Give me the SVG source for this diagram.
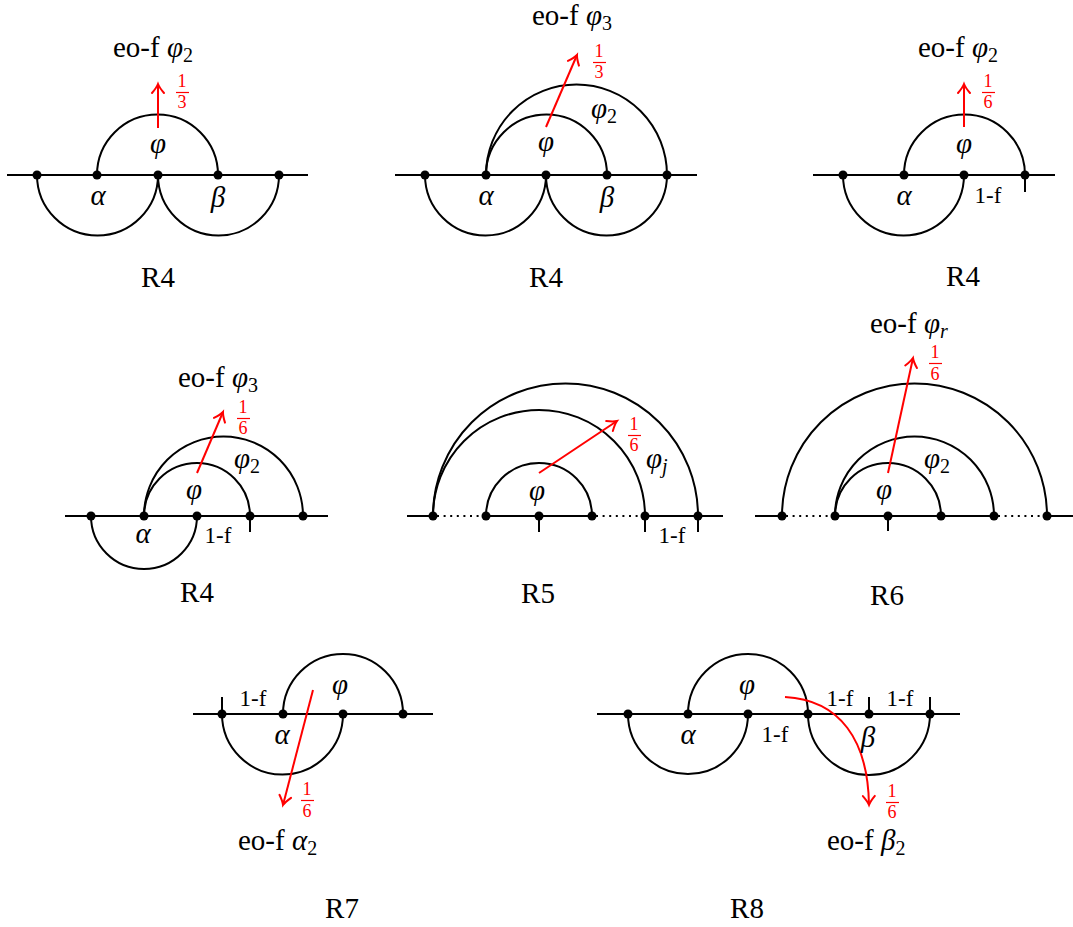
<svg xmlns="http://www.w3.org/2000/svg" width="1073" height="927" viewBox="0 0 1073 927">
<style>
.ln{stroke:#000;stroke-width:2;fill:none}
.dt{stroke:#000;stroke-width:2;fill:none;stroke-dasharray:2 4.6}
.rd{stroke:#f00;stroke-width:2;fill:none}
.bar{stroke:#f00;stroke-width:1.2}
.dot{fill:#000}
text{font-family:"Liberation Serif","Times New Roman",serif;fill:#000}
.t{font-size:29px}
.g{font-size:29px;font-style:italic;text-anchor:middle}
.s{font-size:20px;font-style:normal}
.si{font-size:20px;font-style:italic}
.fr{font-size:18px;fill:#f00;text-anchor:middle}
.lf{font-size:23px;text-anchor:middle}
.c{text-anchor:middle}
</style>
<defs>
<marker id="ah" markerUnits="userSpaceOnUse" markerWidth="20" markerHeight="20" refX="0" refY="0" orient="auto" overflow="visible">
<path d="M-9,-6 Q-3.5,-1.3 0,0 Q-3.5,1.3 -9,6" stroke="#f00" stroke-width="2" fill="none" stroke-linecap="round"/>
</marker>
</defs>

<!-- Panel 1 -->
<g id="panel1">
<g id="p1-edges">
<line class="ln" x1="7" y1="175" x2="308" y2="175"/>
<path class="ln" d="M97,175 A60.5,60.5 0 0 1 218,175"/>
<path class="ln" d="M37,175 A60.5,60.5 0 0 0 158,175"/>
<path class="ln" d="M158,175 A60.5,60.5 0 0 0 279,175"/>
<line class="rd" x1="158" y1="128" x2="158" y2="84" marker-end="url(#ah)"/>
</g>
<g id="p1-nodes">
<circle class="dot" cx="37" cy="175" r="4.5"/><circle class="dot" cx="97" cy="175" r="4.5"/><circle class="dot" cx="158" cy="175" r="4.5"/><circle class="dot" cx="218" cy="175" r="4.5"/><circle class="dot" cx="279" cy="175" r="4.5"/>
</g>
<g id="p1-labels">
<text class="t" x="113" y="57">eo-f <tspan font-style="italic">φ</tspan><tspan class="s" dy="5">2</tspan></text>
<text class="fr" x="182" y="87">1</text><line class="bar" x1="176" y1="92.5" x2="189" y2="92.5"/><text class="fr" x="182" y="108">3</text>
<text class="g" x="158" y="153">φ</text>
<text class="g" x="98" y="205">α</text>
<text class="g" x="218" y="207">β</text>
<text class="t c" x="158" y="287">R4</text>
</g>
</g>

<!-- Panel 2 -->
<g id="panel2">
<g id="p2-edges">
<line class="ln" x1="395" y1="175" x2="697" y2="175"/>
<path class="ln" d="M486,175 A60.5,60.5 0 0 1 607,175"/>
<path class="ln" d="M486,175 A90.5,90.5 0 0 1 667,175"/>
<path class="ln" d="M425,175 A60.5,60.5 0 0 0 546,175"/>
<path class="ln" d="M546,175 A60.5,60.5 0 0 0 667,175"/>
<line class="rd" x1="546" y1="127" x2="577" y2="55" marker-end="url(#ah)"/>
</g>
<g id="p2-nodes">
<circle class="dot" cx="425" cy="175" r="4.5"/><circle class="dot" cx="486" cy="175" r="4.5"/><circle class="dot" cx="546" cy="175" r="4.5"/><circle class="dot" cx="607" cy="175" r="4.5"/><circle class="dot" cx="667" cy="175" r="4.5"/>
</g>
<g id="p2-labels">
<text class="t" x="532" y="25">eo-f <tspan font-style="italic">φ</tspan><tspan class="s" dy="5">3</tspan></text>
<text class="fr" x="599" y="57">1</text><line class="bar" x1="593" y1="62.5" x2="606" y2="62.5"/><text class="fr" x="599" y="78">3</text>
<text class="t" x="591" y="118" font-style="italic">φ<tspan class="s" dy="5">2</tspan></text>
<text class="g" x="546" y="151">φ</text>
<text class="g" x="486" y="205">α</text>
<text class="g" x="607" y="207">β</text>
<text class="t c" x="546" y="287">R4</text>
</g>
</g>

<!-- Panel 3 -->
<g id="panel3">
<g id="p3-edges">
<line class="ln" x1="813" y1="175" x2="1055" y2="175"/>
<path class="ln" d="M904,175 A60.5,60.5 0 0 1 1025,175"/>
<path class="ln" d="M843,175 A60.5,60.5 0 0 0 964,175"/>
<line class="ln" x1="1025" y1="175" x2="1025" y2="192"/>
<line class="rd" x1="964" y1="127" x2="964" y2="84" marker-end="url(#ah)"/>
</g>
<g id="p3-nodes">
<circle class="dot" cx="843" cy="175" r="4.5"/><circle class="dot" cx="904" cy="175" r="4.5"/><circle class="dot" cx="964" cy="175" r="4.5"/><circle class="dot" cx="1025" cy="175" r="4.5"/>
</g>
<g id="p3-labels">
<text class="t" x="918" y="57">eo-f <tspan font-style="italic">φ</tspan><tspan class="s" dy="5">2</tspan></text>
<text class="fr" x="988" y="87">1</text><line class="bar" x1="982" y1="92.5" x2="995" y2="92.5"/><text class="fr" x="988" y="108">6</text>
<text class="g" x="964" y="153">φ</text>
<text class="g" x="904" y="205">α</text>
<text class="lf" x="988" y="203">1-f</text>
<text class="t c" x="963" y="286">R4</text>
</g>
</g>

<!-- Panel 4 -->
<g id="panel4">
<g id="p4-edges">
<line class="ln" x1="65" y1="516" x2="328" y2="516"/>
<path class="ln" d="M144,516 A53,53 0 0 1 250,516"/>
<path class="ln" d="M144,516 A79.5,79.5 0 0 1 303,516"/>
<path class="ln" d="M91,516 A53,53 0 0 0 197,516"/>
<line class="ln" x1="250" y1="516" x2="250" y2="532"/>
<line class="rd" x1="197" y1="473" x2="223" y2="412" marker-end="url(#ah)"/>
</g>
<g id="p4-nodes">
<circle class="dot" cx="91" cy="516" r="4.5"/><circle class="dot" cx="144" cy="516" r="4.5"/><circle class="dot" cx="197" cy="516" r="4.5"/><circle class="dot" cx="250" cy="516" r="4.5"/><circle class="dot" cx="303" cy="516" r="4.5"/>
</g>
<g id="p4-labels">
<text class="t" x="178" y="387">eo-f <tspan font-style="italic">φ</tspan><tspan class="s" dy="5">3</tspan></text>
<text class="fr" x="243" y="413">1</text><line class="bar" x1="237" y1="418.5" x2="250" y2="418.5"/><text class="fr" x="243" y="434">6</text>
<text class="t" x="234" y="468" font-style="italic">φ<tspan class="s" dy="5">2</tspan></text>
<text class="g" x="194" y="499">φ</text>
<text class="g" x="143" y="543">α</text>
<text class="lf" x="218" y="543">1-f</text>
<text class="t c" x="197" y="602">R4</text>
</g>
</g>

<!-- Panel 5 -->
<g id="panel5">
<g id="p5-edges">
<line class="ln" x1="407" y1="516" x2="433" y2="516"/>
<line class="dt" x1="437" y1="516" x2="484" y2="516"/>
<line class="ln" x1="486" y1="516" x2="592" y2="516"/>
<line class="dt" x1="596" y1="516" x2="643" y2="516"/>
<line class="ln" x1="645" y1="516" x2="723" y2="516"/>
<path class="ln" d="M486,516 A53,53 0 0 1 592,516"/>
<path class="ln" d="M433,516 A106,106 0 0 1 645,516"/>
<path class="ln" d="M433,516 A132.5,132.5 0 0 1 698,516"/>
<line class="ln" x1="539" y1="516" x2="539" y2="532"/>
<line class="ln" x1="645" y1="516" x2="645" y2="532"/>
<line class="ln" x1="698" y1="516" x2="698" y2="532"/>
<line class="rd" x1="539" y1="473" x2="617" y2="421" marker-end="url(#ah)"/>
</g>
<g id="p5-nodes">
<circle class="dot" cx="433" cy="516" r="4.5"/><circle class="dot" cx="486" cy="516" r="4.5"/><circle class="dot" cx="539" cy="516" r="4.5"/><circle class="dot" cx="592" cy="516" r="4.5"/><circle class="dot" cx="645" cy="516" r="4.5"/><circle class="dot" cx="698" cy="516" r="4.5"/>
</g>
<g id="p5-labels">
<text class="fr" x="634" y="430">1</text><line class="bar" x1="628" y1="435.5" x2="641" y2="435.5"/><text class="fr" x="634" y="451">6</text>
<text class="t" x="646" y="468" font-style="italic">φ<tspan class="si" dy="5">j</tspan></text>
<text class="g" x="537" y="500">φ</text>
<text class="lf" x="672" y="543">1-f</text>
<text class="t c" x="538" y="603">R5</text>
</g>
</g>

<!-- Panel 6 -->
<g id="panel6">
<g id="p6-edges">
<line class="ln" x1="755" y1="516" x2="782" y2="516"/>
<line class="dt" x1="786" y1="516" x2="833" y2="516"/>
<line class="ln" x1="835" y1="516" x2="994" y2="516"/>
<line class="dt" x1="998" y1="516" x2="1045" y2="516"/>
<line class="ln" x1="1047" y1="516" x2="1073" y2="516"/>
<path class="ln" d="M835,516 A53,53 0 0 1 941,516"/>
<path class="ln" d="M835,516 A79.5,79.5 0 0 1 994,516"/>
<path class="ln" d="M782,516 A132.5,132.5 0 0 1 1047,516"/>
<line class="ln" x1="888" y1="516" x2="888" y2="531"/>
<line class="rd" x1="888" y1="473" x2="913" y2="358" marker-end="url(#ah)"/>
</g>
<g id="p6-nodes">
<circle class="dot" cx="782" cy="516" r="4.5"/><circle class="dot" cx="835" cy="516" r="4.5"/><circle class="dot" cx="888" cy="516" r="4.5"/><circle class="dot" cx="941" cy="516" r="4.5"/><circle class="dot" cx="994" cy="516" r="4.5"/><circle class="dot" cx="1047" cy="516" r="4.5"/>
</g>
<g id="p6-labels">
<text class="t" x="870" y="333">eo-f <tspan font-style="italic">φ</tspan><tspan class="si" dy="5">r</tspan></text>
<text class="fr" x="935" y="358">1</text><line class="bar" x1="929" y1="363.5" x2="942" y2="363.5"/><text class="fr" x="935" y="380">6</text>
<text class="t" x="924" y="468" font-style="italic">φ<tspan class="s" dy="5">2</tspan></text>
<text class="g" x="884" y="499">φ</text>
<text class="t c" x="887" y="605">R6</text>
</g>
</g>

<!-- Panel 7 -->
<g id="panel7">
<g id="p7-edges">
<line class="ln" x1="193" y1="714" x2="433" y2="714"/>
<path class="ln" d="M283,714 A60,60 0 0 1 403,714"/>
<path class="ln" d="M222,714 A60.5,60.5 0 0 0 343,714"/>
<line class="ln" x1="222" y1="714" x2="222" y2="697"/>
<line class="rd" x1="313" y1="690" x2="283" y2="805" marker-end="url(#ah)"/>
</g>
<g id="p7-nodes">
<circle class="dot" cx="222" cy="714" r="4.5"/><circle class="dot" cx="283" cy="714" r="4.5"/><circle class="dot" cx="343" cy="714" r="4.5"/><circle class="dot" cx="403" cy="714" r="4.5"/>
</g>
<g id="p7-labels">
<text class="lf" x="253" y="706">1-f</text>
<text class="g" x="340" y="694">φ</text>
<text class="g" x="282" y="744">α</text>
<text class="fr" x="307" y="795">1</text><line class="bar" x1="301" y1="800.5" x2="314" y2="800.5"/><text class="fr" x="307" y="817">6</text>
<text class="t" x="238" y="850">eo-f <tspan font-style="italic">α</tspan><tspan class="s" dy="5">2</tspan></text>
<text class="t c" x="342" y="918">R7</text>
</g>
</g>

<!-- Panel 8 -->
<g id="panel8">
<g id="p8-edges">
<line class="ln" x1="597" y1="714" x2="960" y2="714"/>
<path class="ln" d="M688,714 A60,60 0 0 1 808,714"/>
<path class="ln" d="M628,714 A60,60 0 0 0 748,714"/>
<path class="ln" d="M808,714 A61,61 0 0 0 930,714"/>
<line class="ln" x1="869" y1="714" x2="869" y2="697"/>
<line class="ln" x1="930" y1="714" x2="930" y2="697"/>
<path class="rd" d="M785,697 C840,700 868,740 869,805" marker-end="url(#ah)"/>
</g>
<g id="p8-nodes">
<circle class="dot" cx="628" cy="714" r="4.5"/><circle class="dot" cx="688" cy="714" r="4.5"/><circle class="dot" cx="748" cy="714" r="4.5"/><circle class="dot" cx="808" cy="714" r="4.5"/><circle class="dot" cx="869" cy="714" r="4.5"/><circle class="dot" cx="930" cy="714" r="4.5"/>
</g>
<g id="p8-labels">
<text class="g" x="747" y="694">φ</text>
<text class="g" x="688" y="744">α</text>
<text class="g" x="868" y="747">β</text>
<text class="lf" x="775" y="742">1-f</text>
<text class="lf" x="840" y="706">1-f</text>
<text class="lf" x="900" y="706">1-f</text>
<text class="fr" x="892" y="797">1</text><line class="bar" x1="886" y1="802.5" x2="899" y2="802.5"/><text class="fr" x="892" y="818">6</text>
<text class="t" x="827" y="850">eo-f <tspan font-style="italic">β</tspan><tspan class="s" dy="5">2</tspan></text>
<text class="t c" x="747" y="918">R8</text>
</g>
</g>
</svg>
